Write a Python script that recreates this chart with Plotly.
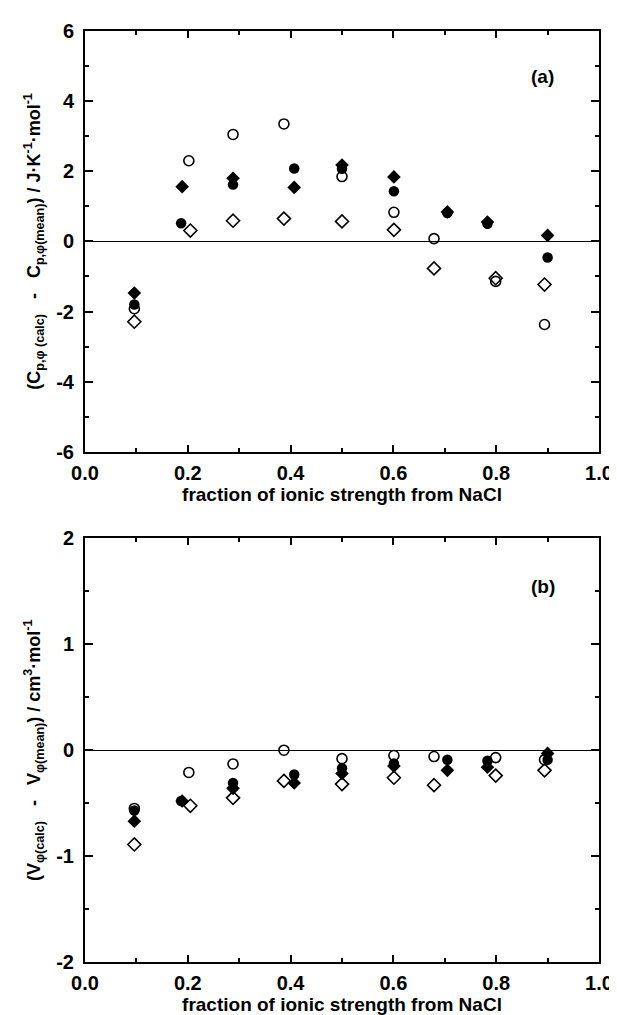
import plotly.graph_objects as go

# x positions (fraction of ionic strength from NaCl) per series
x_open_circle = [0.096, 0.202, 0.288, 0.387, 0.500, 0.601, 0.679, 0.799, 0.894]
x_filled_circle = [0.096, 0.187, 0.288, 0.407, 0.500, 0.601, 0.705, 0.783, 0.900]
x_filled_diamond = [0.096, 0.189, 0.288, 0.407, 0.500, 0.601, 0.705, 0.783, 0.900]
x_open_diamond = [0.096, 0.205, 0.288, 0.387, 0.500, 0.601, 0.679, 0.799, 0.894]

# panel (a): Cp,phi(calc) - Cp,phi(mean)
cp_open_circle = [-1.92, 2.30, 3.05, 3.35, 1.85, 0.83, 0.08, -1.14, -2.37]
cp_filled_circle = [-1.80, 0.52, 1.62, 2.08, 2.07, 1.43, 0.81, 0.50, -0.46]
cp_filled_diamond = [-1.47, 1.56, 1.80, 1.54, 2.18, 1.84, 0.84, 0.55, 0.17]
cp_open_diamond = [-2.29, 0.31, 0.59, 0.65, 0.57, 0.33, -0.77, -1.05, -1.23]

# panel (b): V_phi(calc) - V_phi(mean)
v_open_circle = [-0.55, -0.21, -0.13, 0.00, -0.08, -0.05, -0.06, -0.07, -0.09]
v_filled_circle = [-0.57, -0.48, -0.31, -0.23, -0.17, -0.125, -0.09, -0.10, -0.09]
v_filled_diamond = [-0.67, -0.48, -0.36, -0.31, -0.22, -0.15, -0.19, -0.16, -0.03]
v_open_diamond = [-0.89, -0.525, -0.45, -0.29, -0.32, -0.26, -0.33, -0.24, -0.19]

x_ticks = [0.0, 0.2, 0.4, 0.6, 0.8, 1.0]
x_tick_text = ["0.0", "0.2", "0.4", "0.6", "0.8", "1.0"]
cp_ticks = [-6, -4, -2, 0, 2, 4, 6]
v_ticks = [-2, -1, 0, 1, 2]

FONT = "Liberation Sans, Arial, Helvetica, sans-serif"

fig = go.Figure()

series = [
    ("open circle", x_open_circle, cp_open_circle, v_open_circle,
     dict(symbol="circle-open", size=10, color="black", line=dict(width=1.6, color="black"))),
    ("open diamond", x_open_diamond, cp_open_diamond, v_open_diamond,
     dict(symbol="diamond-open", size=10, color="black", line=dict(width=1.6, color="black"))),
    ("filled circle", x_filled_circle, cp_filled_circle, v_filled_circle,
     dict(symbol="circle", size=10.5, color="black", line=dict(width=0))),
    ("filled diamond", x_filled_diamond, cp_filled_diamond, v_filled_diamond,
     dict(symbol="diamond", size=10.5, color="black", line=dict(width=0))),
]

for name, xs, ya, yb, mk in series:
    fig.add_trace(go.Scatter(x=xs, y=ya, xaxis="x", yaxis="y", mode="markers",
                             marker=mk, name=name, showlegend=False))
    fig.add_trace(go.Scatter(x=xs, y=yb, xaxis="x2", yaxis="y2", mode="markers",
                             marker=mk, name=name, showlegend=False))


def bold(s):
    return "<b>" + s + "</b>"


tick_font = dict(family=FONT, size=20, color="black", weight="bold")
xtitle = dict(text=bold("fraction of ionic strength from NaCl"), standoff=4,
              font=dict(family=FONT, size=19, color="black", weight="bold"))

common_x = dict(range=[0, 1], tickmode="array", tickvals=x_ticks,
                ticktext=[bold(t) for t in x_tick_text],
                ticks="inside", ticklen=7, tickwidth=2, tickcolor="black",
                minor=dict(dtick=0.1, ticks="inside", ticklen=4, tickwidth=2, tickcolor="black"),
                showline=True, linewidth=2, linecolor="black", mirror="ticks",
                showgrid=False, zeroline=False, tickfont=tick_font, title=xtitle,
                ticklabelstandoff=2)

common_y = dict(ticks="inside", ticklen=8, tickwidth=2, tickcolor="black",
                showline=True, linewidth=2, linecolor="black", mirror="ticks",
                showgrid=False, zeroline=True, zerolinecolor="black", zerolinewidth=1.2,
                tickfont=tick_font, ticklabelstandoff=5)

SP = "&nbsp;&nbsp;&nbsp;"
ytitle_a = bold("(C<sub>p,φ (calc)</sub>" + SP + "-" + SP + "C<sub>p,φ(mean)</sub>) / J·K<sup>-1</sup>·mol<sup>-1</sup>")
ytitle_b = bold("(V<sub>φ(calc)</sub>" + SP + "-" + SP + "V<sub>φ(mean)</sub>) / cm<sup>3</sup>·mol<sup>-1</sup>")

fig.update_layout(
    xaxis=dict(**common_x, domain=[0, 1], anchor="y"),
    xaxis2=dict(**common_x, domain=[0, 1], anchor="y2"),
    yaxis=dict(**common_y, domain=[0.548, 1.0], anchor="x", range=[-6, 6],
               tickmode="array", tickvals=cp_ticks, ticktext=[bold(str(t)) for t in cp_ticks],
               minor=dict(dtick=1, ticks="inside", ticklen=4, tickwidth=2, tickcolor="black"),
               title=dict(text=ytitle_a, standoff=11,
                          font=dict(family=FONT, size=18, color="black", weight="bold"))),
    yaxis2=dict(**common_y, domain=[0.0, 0.455], anchor="x2", range=[-2, 2],
                tickmode="array", tickvals=v_ticks, ticktext=[bold(str(t)) for t in v_ticks],
                minor=dict(dtick=0.5, ticks="inside", ticklen=4, tickwidth=2, tickcolor="black"),
                title=dict(text=ytitle_b, standoff=11,
                           font=dict(family=FONT, size=18, color="black", weight="bold"))),
)

fig.add_annotation(text=bold("(a)"), x=0.89, y=4.7, xref="x", yref="y", showarrow=False,
                   font=dict(family=FONT, size=19, color="black", weight="bold"))
fig.add_annotation(text=bold("(b)"), x=0.892, y=1.55, xref="x2", yref="y2", showarrow=False,
                   font=dict(family=FONT, size=19, color="black", weight="bold"))

fig.update_layout(width=617, height=1015, margin=dict(l=77, r=21, t=15, b=55),
                  paper_bgcolor="white", plot_bgcolor="white")

fig.write_html("out.html")
